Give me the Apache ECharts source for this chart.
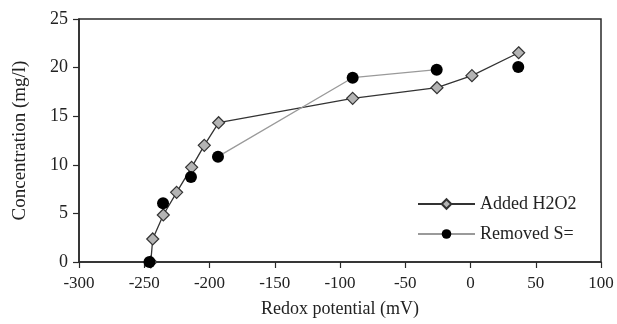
<!DOCTYPE html>
<html>
<head>
<meta charset="utf-8">
<script src="https://cdn.jsdelivr.net/npm/echarts@6/dist/echarts.min.js"></script>
<style>
  html, body { margin: 0; padding: 0; background: #fff; }
  #chart { width: 617px; height: 324px; }
</style>
</head>
<body>
<div id="chart"></div>
<script>
// 数据
const seriesNames = ['Added H2O2', 'Removed S='];
const addedX = [-245, -243.5, -235.4, -225.2, -213.7, -204, -193, -90.3, -25.7, 1.1, 36.9];
const addedY = [0, 2.37, 4.84, 7.17, 9.74, 12.0, 14.33, 16.84, 17.93, 19.17, 21.53];
// null = 不连线
const removedX = [-246, null, -235.6, null, -214.2, null, -193.5, -90.3, -25.9, null, 36.6];
const removedY = [0, null, 6.04, null, 8.74, null, 10.84, 18.96, 19.79, null, 20.06];
const xTicks = { min: -300, max: 100, step: 50 };
const yTicks = { min: 0, max: 25, step: 5 };

const pairs = (xs, ys) => xs.map((x, i) => (x === null ? '-' : [x, ys[i]]));

const font = "'Liberation Serif', 'Times New Roman', serif";
const axisColor = '#2a2a2a';

const chart = echarts.init(document.getElementById('chart'));
chart.setOption({
  animation: false,
  backgroundColor: '#fff',
  textStyle: { fontFamily: font, color: '#222' },
  grid: { left: 79, right: 16, top: 19, bottom: 62, show: true, borderColor: axisColor, borderWidth: 1.5 },
  legend: {
    data: seriesNames,
    orient: 'vertical',
    left: 412,
    top: 190,
    itemWidth: 57,
    itemHeight: 12,
    itemGap: 12,
    textStyle: { fontFamily: font, fontSize: 18, color: '#222' },
  },
  xAxis: {
    type: 'value',
    min: xTicks.min,
    max: xTicks.max,
    interval: xTicks.step,
    name: 'Redox potential (mV)',
    nameLocation: 'middle',
    nameGap: 38,
    nameTextStyle: { fontFamily: font, fontSize: 18, color: '#222' },
    axisLine: { show: true, onZero: false, lineStyle: { color: axisColor, width: 1.5 } },
    axisTick: { show: true, inside: false, length: 6, lineStyle: { color: axisColor, width: 1.2 } },
    axisLabel: { fontFamily: font, fontSize: 17, color: '#222', margin: 13 },
    splitLine: { show: false },
  },
  yAxis: {
    type: 'value',
    min: yTicks.min,
    max: yTicks.max,
    interval: yTicks.step,
    name: 'Concentration (mg/l)',
    nameLocation: 'middle',
    nameGap: 49,
    nameTextStyle: { fontFamily: font, fontSize: 19, color: '#222' },
    axisLine: { show: true, onZero: false, lineStyle: { color: axisColor, width: 1.5 } },
    axisTick: { show: true, inside: false, length: 6, lineStyle: { color: axisColor, width: 1.2 } },
    axisLabel: { fontFamily: font, fontSize: 18, color: '#222', margin: 11 },
    splitLine: { show: false },
  },
  series: [
    {
      name: seriesNames[0],
      type: 'line',
      data: pairs(addedX, addedY),
      symbol: 'diamond',
      symbolSize: 12,
      z: 2,
      lineStyle: { color: '#333', width: 1.3 },
      itemStyle: { color: '#b4b4b4', borderColor: '#333', borderWidth: 1.2 },
    },
    {
      name: seriesNames[1],
      type: 'line',
      data: pairs(removedX, removedY),
      connectNulls: false,
      symbol: 'circle',
      symbolSize: 12,
      z: 3,
      lineStyle: { color: '#9a9a9a', width: 1.3 },
      itemStyle: { color: '#000', borderColor: '#000', borderWidth: 0 },
    },
  ],
});
</script>
</body>
</html>
